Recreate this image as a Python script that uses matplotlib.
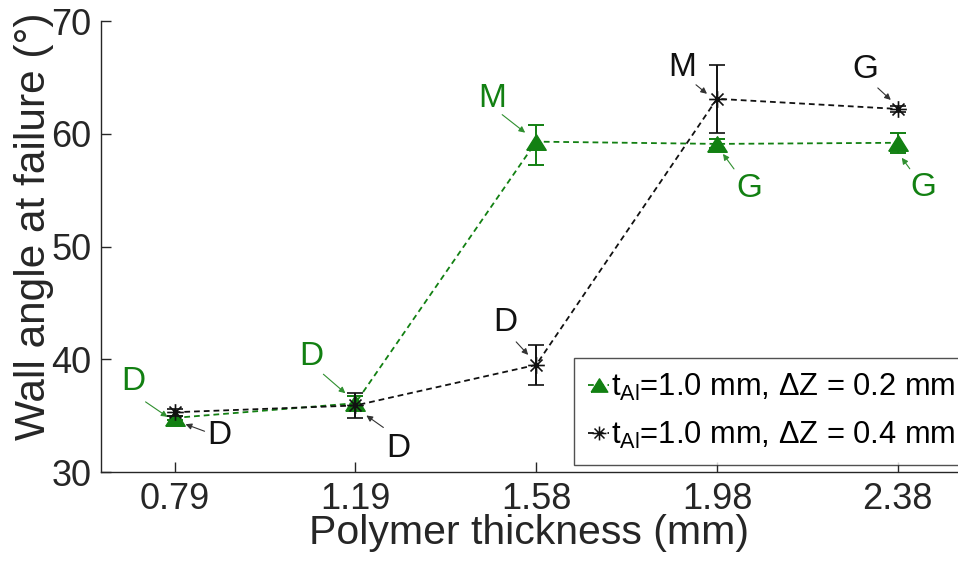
import numpy as np
import matplotlib
matplotlib.use("Agg")
import matplotlib.pyplot as plt
from matplotlib.path import Path
from matplotlib.lines import Line2D
from matplotlib.transforms import offset_copy

plt.rcParams['font.family'] = ['Liberation Sans', 'DejaVu Sans']
plt.rcParams['mathtext.fontset'] = 'custom'
plt.rcParams['mathtext.rm'] = 'Liberation Sans'
plt.rcParams['mathtext.it'] = 'Liberation Sans'

# Polymer thickness categories (mm)
thickness_labels = ["0.79", "1.19", "1.58", "1.98", "2.38"]

# Series 1: t_Al = 1.0 mm, dZ = 0.2 mm
angle_dz02 = [34.8, 36.1, 59.3, 59.1, 59.2]
err_lo_dz02 = [0.2, 0.6, 2.1, 0.4, 0.9]
err_hi_dz02 = [0.2, 0.6, 1.5, 0.4, 0.85]
mode_dz02 = ["D", "D", "M", "G", "G"]

# Series 2: t_Al = 1.0 mm, dZ = 0.4 mm
angle_dz04 = [35.3, 35.9, 39.5, 63.1, 62.2]
err_dz04 = [0.3, 1.1, 1.75, 3.0, 0.3]
mode_dz04 = ["D", "D", "D", "M", "G"]

label_dz02 = r"t$_{\mathrm{Al}}$=1.0 mm, ΔZ = 0.2 mm"
label_dz04 = r"t$_{\mathrm{Al}}$=1.0 mm, ΔZ = 0.4 mm"

GREEN = "#128012"
BLACK = "#111111"
AXC = "#262626"

x = np.arange(len(thickness_labels))

fig = plt.figure(figsize=(9.58, 5.74), dpi=100)
ax = fig.add_axes([0.1054, 0.1777, 0.8946, 0.7857])

tri = [(-1.0, -0.8), (1.0, -0.8), (0.0, 0.8), (-1.0, -0.8)]
star = Path([(-1, 0), (1, 0), (0, -1), (0, 1),
             (-0.72, -0.72), (0.72, 0.72), (-0.72, 0.72), (0.72, -0.72)],
            [Path.MOVETO, Path.LINETO] * 4)
dash = (0, (3.2, 2.2))

ax.errorbar(x, angle_dz02, yerr=[err_lo_dz02, err_hi_dz02], color=GREEN,
            ls=dash, lw=1.3, marker=tri, ms=14, mfc=GREEN, mec=GREEN,
            ecolor=GREEN, elinewidth=1.4, capsize=5.5, capthick=1.4, zorder=3)
ax.errorbar(x, angle_dz04, yerr=err_dz04, color=BLACK,
            ls=dash, lw=1.3, marker=star, ms=12, mfc='none', mec=BLACK,
            mew=1.2, ecolor=BLACK, elinewidth=1.4, capsize=5.5, capthick=1.4,
            zorder=4)

ax.set_xlim(-0.407, 4.333)
ax.set_ylim(30, 70)
ax.set_xticks(x)
ax.set_xticklabels(thickness_labels)
ax.set_yticks([30, 40, 50, 60, 70])
ax.tick_params(direction='in', length=7, width=1, labelsize=26, color=AXC,
               labelcolor=AXC)
ax.tick_params(axis='x', pad=7)
ax.tick_params(axis='y', pad=7)
for s in ['top', 'right']:
    ax.spines[s].set_visible(False)
for s in ['left', 'bottom']:
    ax.spines[s].set_color(AXC)
    ax.spines[s].set_linewidth(1.0)

ax.set_xlabel("Polymer thickness (mm)", fontsize=29.5, color=AXC, labelpad=-2)
ax.set_ylabel("Wall angle at failure (°)", fontsize=30.5, color=AXC)
ax.yaxis.set_label_coords(-0.055, 0.545)

# failure-mode labels: (text offset, arrow tail offset, arrow head offset) in pixels
notes_dz02 = [((-41, 36), (-29, 16), (-7, 1)),
              ((-44, 47), (-32, 29), (-10, 10)),
              ((-44, 43), (-34, 27), (-11, 9)),
              ((32, -45), (17, -25), (6, -10)),
              ((26, -45), (12, -26), (4, -15))]
notes_dz04 = [((45, -23), (30, -19), (11, -12)),
              ((43, -43), (28, -22), (11, -10)),
              ((-31, 42), (-20, 23), (-8, 10)),
              ((-35, 31), (-21, 14), (-10, 5)),
              ((-32, 39), (-20, 21), (-7, 9))]


def label_modes(yvals, modes, notes, color, arrow_color):
    for xi, yi, m, (t, tail, head) in zip(x, yvals, modes, notes):
        ax.annotate(m, xy=(xi, yi), xytext=t, textcoords='offset pixels',
                    ha='center', va='center', fontsize=24, color=color, zorder=6)
        tr = offset_copy(ax.transData, fig=fig, x=head[0], y=head[1], units='dots')
        ax.annotate('', xy=(xi, yi), xycoords=tr,
                    xytext=(tail[0] - head[0], tail[1] - head[1]),
                    textcoords='offset pixels',
                    arrowprops=dict(arrowstyle='-|>', color=arrow_color, lw=0.8,
                                    mutation_scale=9, shrinkA=0, shrinkB=0),
                    zorder=6)


label_modes(angle_dz02, mode_dz02, notes_dz02, GREEN, "#2f8f2f")
label_modes(angle_dz04, mode_dz04, notes_dz04, BLACK, "#333333")

handles = [Line2D([], [], color=GREEN, ls=dash, lw=1.3, marker=tri, ms=12,
                  mfc=GREEN, mec=GREEN),
           Line2D([], [], color=BLACK, ls=dash, lw=1.3, marker=star, ms=10,
                  mfc='none', mec=BLACK, mew=1.1)]
leg = ax.legend(handles, [label_dz02, label_dz04], loc='upper left',
                bbox_to_anchor=(574 / 958, 1 - 358 / 574),
                bbox_transform=fig.transFigure, fontsize=22.2, frameon=True,
                fancybox=False, borderaxespad=0, borderpad=0.45,
                handlelength=0.7, handletextpad=0.05, labelspacing=0.55)
leg.get_frame().set_edgecolor(AXC)
leg.get_frame().set_linewidth(1.0)
leg.set_zorder(7)

fig.savefig("out.png", dpi=100)
